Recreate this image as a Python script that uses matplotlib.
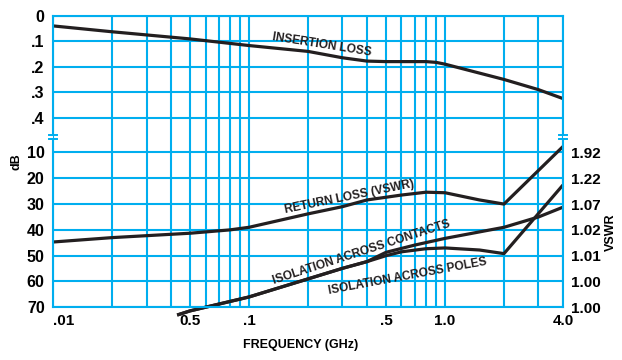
import matplotlib
matplotlib.use("Agg")
import matplotlib.pyplot as plt
from matplotlib.ticker import FixedLocator, NullFormatter

plt.rcParams['font.family'] = ['Liberation Sans', 'DejaVu Sans']
plt.rcParams['font.weight'] = 'bold'

BLUE = '#00AEEF'
INK = '#231F20'

# insertion loss (dB) vs frequency (GHz)
freq_il = [0.01, 0.02, 0.05, 0.1, 0.2, 0.3, 0.4, 0.5, 0.8, 0.9, 1.0, 2.0, 3.0, 4.0]
ins_loss = [0.04, 0.063, 0.091, 0.117, 0.14, 0.165, 0.178, 0.18, 0.18, 0.183, 0.19, 0.25, 0.29, 0.325]

# return loss (dB)
freq_rl = [0.01, 0.02, 0.05, 0.08, 0.1, 0.2, 0.3, 0.4, 0.6, 0.8, 1.0, 1.5, 2.0, 4.0]
ret_loss = [44.7, 43.0, 41.3, 40.0, 39.0, 33.8, 31.0, 28.4, 26.5, 25.4, 25.6, 28.4, 30.0, 7.7]

# isolation across contacts (dB)
freq_ic = [0.043, 0.05, 0.1, 0.2, 0.3, 0.4, 0.5, 0.7, 1.0, 2.0, 3.0, 4.0]
iso_contacts = [73.0, 71.4, 66.0, 59.0, 54.9, 52.3, 48.7, 45.9, 43.3, 39.0, 35.0, 31.2]

# isolation across poles (dB)
freq_ip = [0.043, 0.05, 0.1, 0.2, 0.3, 0.4, 0.5, 0.6, 0.8, 1.0, 1.5, 2.0, 4.0]
iso_poles = [73.0, 71.4, 66.0, 59.0, 54.9, 52.3, 50.0, 48.5, 47.3, 47.0, 47.8, 49.2, 22.6]

il_ticks = [0, 0.1, 0.2, 0.3, 0.4]
il_labels = ['0', '.1', '.2', '.3', '.4']
db_ticks = [10, 20, 30, 40, 50, 60, 70]
vswr_labels = ['1.92', '1.22', '1.07', '1.02', '1.01', '1.00', '1.00']
x_ticks = [0.01, 0.05, 0.1, 0.5, 1.0, 4.0]
x_labels = ['.01', '0.5', '.1', '.5', '1.0', '4.0']
x_grid = [m * d for d in (0.01, 0.1) for m in range(1, 10)] + [1.0, 2.0, 3.0, 4.0]

fig = plt.figure(figsize=(6.22, 3.60), dpi=100)
ax_top = fig.add_axes([0.0852, 0.6194, 0.8199, 0.3370])
ax_bot = fig.add_axes([0.0852, 0.1464, 0.8199, 0.4731])

for ax in (ax_top, ax_bot):
    ax.set_xscale('log')
    ax.set_xlim(0.01, 4.0)
    ax.xaxis.set_major_locator(FixedLocator(x_grid))
    ax.xaxis.set_minor_locator(FixedLocator([]))
    ax.xaxis.set_major_formatter(NullFormatter())
    ax.grid(True, which='major', color=BLUE, lw=1.5)
    ax.set_axisbelow(True)
    ax.tick_params(length=0, labelsize=11.5, pad=6)
    for s in ax.spines.values():
        s.set_color(BLUE)
        s.set_linewidth(1.5)

ax_top.set_ylim(0.4757, 0)
ax_top.set_yticks(il_ticks, labels=il_labels)
ax_top.spines['bottom'].set_visible(False)
ax_top.spines['left'].set_bounds(0, 0.468)
ax_top.spines['right'].set_bounds(0, 0.468)

ax_bot.set_ylim(70, 4.0)
ax_bot.set_yticks(db_ticks)
ax_bot.spines['top'].set_visible(False)
ax_bot.spines['left'].set_bounds(4.88, 70)
ax_bot.spines['right'].set_bounds(4.88, 70)

ax_r = ax_bot.twinx()
ax_r.set_ylim(70, 4.0)
ax_r.set_yticks(db_ticks, labels=vswr_labels)
ax_r.tick_params(length=0, labelsize=11, pad=6)
for s in ax_r.spines.values():
    s.set_visible(False)

# frequency labels drawn on the bottom axes at the labelled decades
for xv, txt in zip(x_ticks, x_labels):
    ax_bot.text(xv, -0.042, txt, transform=ax_bot.get_xaxis_transform(),
                fontsize=11, ha='left' if xv == x_ticks[0] else 'center', va='top')

# axis break marks
for xa in (0.0, 1.0):
    ax_top.plot([xa - 0.007, xa + 0.007], [0.0165, 0.0165], transform=ax_top.transAxes,
                color=BLUE, lw=1.4, clip_on=False)
    ax_bot.plot([xa - 0.007, xa + 0.007], [0.9865, 0.9865], transform=ax_bot.transAxes,
                color=BLUE, lw=1.4, clip_on=False)

ax_top.plot(freq_il, ins_loss, color=INK, lw=2.3, solid_capstyle='butt')
ax_bot.plot(freq_rl, ret_loss, color=INK, lw=2.3, solid_capstyle='butt')
ax_bot.plot(freq_ic, iso_contacts, color=INK, lw=2.3, clip_on=False, solid_capstyle='butt')
ax_bot.plot(freq_ip, iso_poles, color=INK, lw=2.3, clip_on=False, solid_capstyle='butt')

lbl = dict(fontsize=8.6, fontweight='bold', color=INK, ha='center', va='center',
           rotation_mode='anchor')
ax_top.text(0.235, 0.113, 'INSERTION LOSS', rotation=-9, **lbl)
ax_bot.text(0.324, 27.4, 'RETURN LOSS (VSWR)', rotation=11.5, **lbl)
ax_bot.text(0.376, 48.6, 'ISOLATION ACROSS CONTACTS', rotation=18, **lbl)
ax_bot.text(0.644, 58.1, 'ISOLATION ACROSS POLES', rotation=10.5, **lbl)

fig.text(16.7 / 622, 1 - 162 / 360, 'dB', rotation=90, fontsize=9, ha='center', va='center')
fig.text(611 / 622, 1 - 232 / 360, 'VSWR', rotation=90, fontsize=9, ha='center', va='center')
fig.text(301 / 622, 1 - 345 / 360, 'FREQUENCY (GHz)', fontsize=9, ha='center', va='center')

fig.savefig('out.png', dpi=100)
